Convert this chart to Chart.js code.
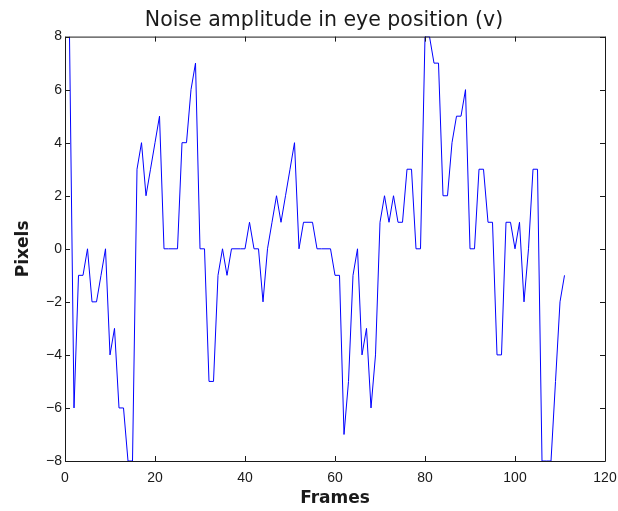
<!DOCTYPE html>
<html>
<head>
<meta charset="utf-8">
<title>Noise amplitude in eye position (v)</title>
<script src="https://cdn.jsdelivr.net/npm/chart.js@4.4.1/dist/chart.umd.min.js"></script>
<style>
  html, body { margin: 0; padding: 0; background: #fff; }
  canvas { display: block; }
</style>
</head>
<body>
<canvas id="noiseChart" width="618" height="511"></canvas>
<script>
// eye position noise per frame, in pixels (frames start at 1)
const noiseValues = [
  8, -6, -1, -1, 0, -2, -2, -1, 0, -4,
  -3, -6, -6, -8, -8, 3, 4, 2, 3, 4,
  5, 0, 0, 0, 0, 4, 4, 6, 7, 0,
  0, -5, -5, -1, 0, -1, 0, 0, 0, 0,
  1, 0, 0, -2, 0, 1, 2, 1, 2, 3,
  4, 0, 1, 1, 1, 0, 0, 0, 0, -1,
  -1, -7, -5, -1, 0, -4, -3, -6, -4, 1,
  2, 1, 2, 1, 1, 3, 3, 0, 0, 8,
  8, 7, 7, 2, 2, 4, 5, 5, 6, 0,
  0, 3, 3, 1, 1, -4, -4, 1, 1, 0,
  1, -2, 0, 3, 3, -8, -8, -8, -5, -2,
  -1
];
const frames = noiseValues.map((v, i) => i + 1);
const frameTicks = [0, 20, 40, 60, 80, 100, 120];
const pixelTicks = [-8, -6, -4, -2, 0, 2, 4, 6, 8];

const inkColor = '#1a1a1a';
const tickFont = { family: 'Liberation Sans, Arial, sans-serif', size: 14 };
const labelFont = { family: 'DejaVu Sans, sans-serif', size: 17, weight: 'bold' };

// closed axes box with short inward tick marks on all four sides
const axesBox = {
  id: 'axesBox',
  afterLayout(chart) {
    const t = chart.titleBlock;
    if (t) {
      const shift = 324 - (t.left + t.right) / 2;
      t.left += shift;
      t.right += shift;
    }
  },
  afterDatasetsDraw(chart) {
    const { ctx, chartArea: a, scales } = chart;
    const len = 5;
    ctx.save();
    ctx.strokeStyle = inkColor;
    ctx.lineWidth = 1;
    ctx.beginPath();
    ctx.rect(a.left + 0.5, a.top + 0.5, a.right - a.left, a.bottom - a.top);
    frameTicks.forEach(v => {
      const x = Math.round(scales.x.getPixelForValue(v)) + 0.5;
      ctx.moveTo(x, a.bottom);
      ctx.lineTo(x, a.bottom - len);
      ctx.moveTo(x, a.top);
      ctx.lineTo(x, a.top + len);
    });
    pixelTicks.forEach(v => {
      const y = Math.round(scales.y.getPixelForValue(v)) + 0.5;
      ctx.moveTo(a.left, y);
      ctx.lineTo(a.left + len, y);
      ctx.moveTo(a.right, y);
      ctx.lineTo(a.right - len, y);
    });
    ctx.stroke();
    ctx.restore();
  }
};

function drawChart() {
  const ctx = document.getElementById('noiseChart').getContext('2d');

  new Chart(ctx, {
    type: 'line',
    data: {
      datasets: [{
        label: 'Noise',
        data: frames.map((f, i) => ({ x: f, y: noiseValues[i] })),
        borderColor: '#0000ff',
        borderWidth: 1,
        pointRadius: 0,
        tension: 0,
        fill: false,
        clip: 0
      }]
    },
    options: {
      responsive: false,
      animation: false,
      devicePixelRatio: 1,
      layout: { padding: { top: 0, right: 13, bottom: 0, left: 0 } },
      plugins: {
        legend: { display: false },
        tooltip: { enabled: false },
        title: {
          display: true,
          text: 'Noise amplitude in eye position (v)',
          color: inkColor,
          font: { family: 'DejaVu Sans, sans-serif', size: 20.5, weight: 'normal' },
          padding: { top: 8, bottom: 4 }
        }
      },
      scales: {
        x: {
          type: 'linear',
          min: 0,
          max: 120,
          afterBuildTicks: s => { s.ticks = frameTicks.map(value => ({ value })); },
          afterFit: s => {
            s.height = 50;
            s.paddingLeft = 0;
            s.paddingRight = 0;
          },
          grid: { display: false, drawTicks: false },
          border: { display: false },
          ticks: { color: inkColor, font: tickFont, padding: 9, maxRotation: 0 },
          title: {
            display: true,
            text: 'Frames',
            color: inkColor,
            font: labelFont,
            padding: { top: 0, bottom: 2 }
          }
        },
        y: {
          type: 'linear',
          min: -8,
          max: 8,
          afterBuildTicks: s => { s.ticks = pixelTicks.map(value => ({ value })); },
          afterFit: s => { s.width = 65; },
          grid: { display: false, drawTicks: false },
          border: { display: false },
          ticks: {
            color: inkColor,
            font: tickFont,
            padding: 3,
            callback: v => (v < 0 ? '\u2212' + Math.abs(v) : String(v))
          },
          title: {
            display: true,
            text: 'Pixels',
            color: inkColor,
            font: labelFont,
            padding: { top: 13, bottom: 0 }
          }
        }
      }
    },
    plugins: [axesBox]
  });
}

document.addEventListener('DOMContentLoaded', drawChart);
</script>
</body>
</html>
